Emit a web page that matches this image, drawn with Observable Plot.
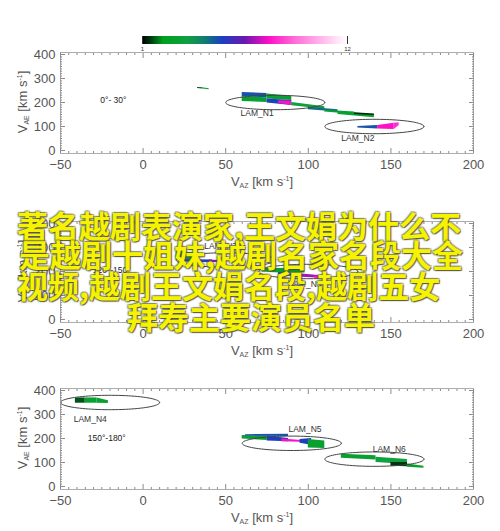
<!DOCTYPE html>
<html><head><meta charset="utf-8">
<script src="https://cdn.jsdelivr.net/npm/d3@7"></script>
<script src="https://cdn.jsdelivr.net/npm/@observablehq/plot@0.6"></script>
<style>
body{margin:0;background:#fff;width:500px;height:531px;overflow:hidden;position:relative;font-family:"Liberation Sans",Arial,sans-serif;}
.abs{position:absolute;}
.xt{font-size:13px;color:#555;white-space:nowrap;transform:translate(-50%,-50%);}
.yt{font-size:13px;color:#555;white-space:nowrap;transform:translate(-50%,-50%) rotate(-90deg);}
.sub{font-size:7px;vertical-align:-2px;}
.sup{font-size:7px;vertical-align:5px;}
.ov{font-family:"Noto Sans CJK SC";font-size:31px;line-height:31px;font-weight:700;color:#f6f300;white-space:nowrap;
 text-shadow:1px 1px 1px rgba(70,70,40,.85),-1px -1px 1px rgba(90,90,60,.5),1px -1px 1px rgba(90,90,60,.5),-1px 1px 1px rgba(90,90,60,.5);}
</style></head><body>
<script>
// ---- data ----
const majorX = [-50, 0, 50, 100, 150, 200];
const majorY = [0, 100, 200, 300, 400];
const colorbarTicks = [1, 12];
const angleLabels = ["0°- 30°", "120°-150°", "150°-180°"];
const angleX = [-18, -19, -22];
const angleY = [211, 207, 201];

const ellipseNames = ["LAM_N1", "LAM_N2", "LAM_N7", "LAM_N3", "LAM_N4", "LAM_N5", "LAM_N6"];
const ellipsePanel = [0, 0, 1, 1, 2, 2, 2];
const ellipseCx = [80, 140, 50, 100, -20, 90, 140];
const ellipseCy = [200, 100, 248, 200, 350, 180, 114];
const ellipseRx = [30, 30, 30, 30, 30, 30, 30];
const ellipseRy = [30, 30, 30, 30, 30, 30, 30];
const ellipseLabelX = [69, 130, 47, 98, -32, 98, 149];
const ellipseLabelY = [155, 51, 304, 146, 282, 240, 156];

// pieces: [value, x0, low0, high0, x1, low1, high1]
const piecesPanel1 = [
  [1.6, 33, 258, 263, 36, 256, 261],
  [2.8, 36, 256, 261, 40, 253, 257],
  [5.0, 60, 224, 242, 75, 220, 238],
  [2.8, 60, 204, 224, 75, 200, 220],
  [2.8, 75, 215, 235, 90, 208, 226],
  [5.3, 75, 198, 215, 90, 188, 208],
  [7.8, 82, 196, 206, 90, 188, 206],
  [3.2, 90, 186, 200, 110, 172, 182],
  [4.6, 100, 170, 180, 118, 160, 170],
  [2.8, 110, 160, 168, 128, 150, 160],
  [2.8, 118, 150, 160, 140, 136, 150],
  [1.3, 128, 150, 157, 140, 146, 152],
  [5.0, 130, 94, 100, 142, 90, 104],
  [7.8, 142, 90, 104, 152, 88, 114],
  [8.3, 152, 88, 114, 155, 104, 116]
];
const piecesPanel2 = [
  [2.8, 20, 250, 272, 32, 248, 270],
  [4.0, 20, 272, 282, 32, 270, 278],
  [5.3, 25, 240, 250, 42, 236, 248],
  [6.8, 40, 238, 248, 46, 238, 246],
  [2.8, 72, 198, 214, 88, 192, 212],
  [5.3, 82, 182, 196, 96, 178, 194],
  [2.8, 88, 196, 210, 98, 194, 206],
  [7.0, 96, 176, 190, 108, 172, 182],
  [7.8, 104, 172, 182, 110, 170, 176]
];
const piecesPanel3 = [
  [1.6, -41, 347, 369, -35, 347, 369],
  [2.8, -35, 347, 369, -28, 347, 369],
  [2.8, -28, 347, 369, -21, 346, 357],
  [2.8, 60, 198, 212, 75, 192, 210],
  [5.0, 62, 210, 216, 88, 208, 218],
  [5.3, 75, 190, 210, 88, 186, 200],
  [7.8, 84, 186, 198, 96, 184, 192],
  [5.3, 95, 180, 196, 102, 172, 200],
  [2.8, 100, 160, 196, 110, 158, 190],
  [2.8, 120, 118, 134, 141, 110, 128],
  [3.4, 141, 100, 122, 160, 92, 112],
  [1.4, 150, 84, 100, 160, 82, 100],
  [2.6, 160, 80, 94, 170, 76, 84]
];
const allPieces = [piecesPanel1, piecesPanel2, piecesPanel3];

const overlayLines = ["著名越剧表演家,王文娟为什么不", "是越剧十姐妹,越剧名家名段大全", "视频,越剧王文娟名段,越剧五女", "拜寿主要演员名单"];

// ---- colour map (colorbar 1..12) ----
const cbarStops = [0, 0.04, 0.1, 0.22, 0.3, 0.39, 0.5, 0.62, 0.75, 1];
const cbarColors = ["#000000", "#003a10", "#00a020", "#10a040", "#108070", "#1c40c0", "#6a18b0", "#ff10c8", "#ff70d8", "#ffffff"];
const cbar = d3.scaleLinear().domain(cbarStops).range(cbarColors).interpolate(d3.interpolateRgb).clamp(true);
const colorScale = {type: "linear", domain: [1, 12], interpolate: t => cbar(t)};

const panelTops = [0, 169, 336];
const minorX = d3.range(-50, 201, 5).filter(v => v % 50 !== 0);
const minorY = d3.range(0, 401, 10).filter(v => v % 100 !== 0);

function add(el, cls, left, top, html) {
  const d = document.createElement("div");
  d.className = "abs " + cls;
  d.style.left = left + "px"; d.style.top = top + "px";
  d.innerHTML = html;
  document.body.appendChild(d);
  return d;
}

function panel(k) {
  const data = allPieces[k].flatMap((p, i) => [
    {id: i, x: p[1], lo: p[2], hi: p[3], v: p[0]},
    {id: i, x: p[4], lo: p[5], hi: p[6], v: p[0]}
  ]);
  const idx = ellipseNames.map((n, i) => i).filter(i => ellipsePanel[i] === k);
  const ell = idx.flatMap(i => d3.range(0, 361, 4).map(a => ({
    name: ellipseNames[i],
    x: ellipseCx[i] + ellipseRx[i] * Math.cos(a * Math.PI / 180),
    y: ellipseCy[i] + ellipseRy[i] * Math.sin(a * Math.PI / 180)
  })));
  const labels = idx.map(i => ({t: ellipseNames[i], x: ellipseLabelX[i], y: ellipseLabelY[i]}));
  const tickStroke = "#8a8a8a";
  return Plot.plot({
    width: 500, height: 190,
    marginTop: 52, marginLeft: 60, marginRight: 27, marginBottom: 37,
    x: {domain: [-50, 200], axis: null},
    y: {domain: [-12.5, 408.3], axis: null},
    color: colorScale,
    style: {background: "transparent", fontFamily: "'Liberation Sans', Arial, sans-serif", fontSize: "13px", color: "#555", overflow: "visible"},
    marks: [
      Plot.areaY(data, {x: "x", y1: "lo", y2: "hi", z: "id", fill: "v", curve: "linear"}),
      Plot.line(ell, {x: "x", y: "y", z: "name", stroke: "#444", strokeWidth: 1}),
      Plot.text(labels, {x: "x", y: "y", text: "t", fontSize: 8.5, fill: "#333"}),
      Plot.text([angleLabels[k]], {x: () => angleX[k], y: () => angleY[k], text: d => d, fontSize: 8.5, fill: "#222"}),
      Plot.frame({stroke: "#999", strokeWidth: 0.8}),
      Plot.axisX(majorX, {anchor: "bottom", tickSize: -5, tickPadding: 11, stroke: tickStroke, label: null}),
      Plot.axisX(minorX, {anchor: "bottom", tickSize: -2, tickFormat: () => "", stroke: tickStroke, label: null}),
      Plot.axisX(majorX, {anchor: "top", tickSize: -5, tickFormat: () => "", stroke: tickStroke, label: null}),
      Plot.axisX(minorX, {anchor: "top", tickSize: -2, tickFormat: () => "", stroke: tickStroke, label: null}),
      Plot.axisY(majorY, {anchor: "left", tickSize: -5, tickPadding: 10, stroke: tickStroke, label: null}),
      Plot.axisY(minorY, {anchor: "left", tickSize: -2, tickFormat: () => "", stroke: tickStroke, label: null}),
      Plot.axisY(majorY, {anchor: "right", tickSize: -5, tickFormat: () => "", stroke: tickStroke, label: null}),
      Plot.axisY(minorY, {anchor: "right", tickSize: -2, tickFormat: () => "", stroke: tickStroke, label: null})
    ]
  });
}

for (let k = 0; k < 3; k++) {
  const wrap = document.createElement("div");
  wrap.className = "abs";
  wrap.style.left = "0px"; wrap.style.top = panelTops[k] + "px";
  wrap.appendChild(panel(k));
  document.body.appendChild(wrap);
  add(null, "xt", 262, panelTops[k] + 181, 'V<span class="sub">AZ</span> [km s<span class="sup">-1</span>]');
  add(null, "yt", 22, panelTops[k] + 102, 'V<span class="sub">AE</span> [km s<span class="sup">-1</span>]');
}

// colorbar
const lg = Plot.legend({
  color: colorScale,
  width: 212, height: 16, marginTop: 0, marginBottom: 8, marginLeft: 0, marginRight: 7,
  ticks: colorbarTicks, tickSize: 0, label: null,
  style: {fontSize: "6px", fontFamily: "'Liberation Sans', Arial", color: "#333", overflow: "visible", background: "transparent"}
});
const lw = document.createElement("div");
lw.className = "abs"; lw.style.left = "142px"; lw.style.top = "36px";
lw.appendChild(lg);
document.body.appendChild(lw);

// overlay text
const ovLeft = [17, 19, 17, 127];
const ovTop = [209, 238, 269, 300];
overlayLines.forEach((t, i) => add(null, "ov", ovLeft[i], ovTop[i], t));
</script>
</body></html>
